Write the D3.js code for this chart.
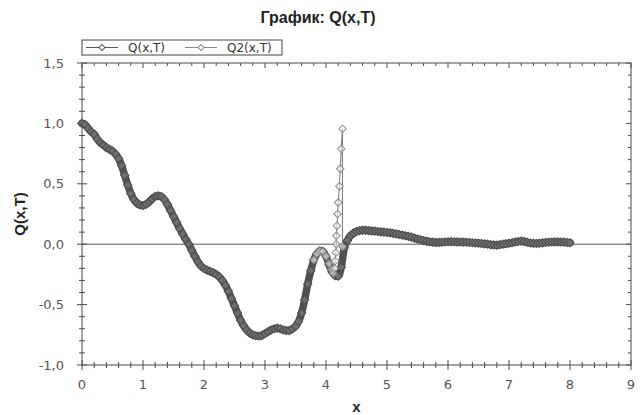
<!DOCTYPE html>
<meta charset="utf-8">
<script src="https://d3js.org/d3.v7.min.js"></script>
<style>
  body { margin: 0; background: #fff; }
</style>
<body>
<div id="my_dataviz"></div>
<script>
// Q(x,T), sampled every 0.05 from 0 to 8
var qX = [
  0.00,0.05,0.10,0.15,0.20,0.25,0.30,0.35,0.40,0.45,0.50,0.55,0.60,0.65,0.70,0.75,0.80,0.85,0.90,0.95,
  1.00,1.05,1.10,1.15,1.20,1.25,1.30,1.35,1.40,1.45,1.50,1.55,1.60,1.65,1.70,1.75,1.80,1.85,1.90,1.95,
  2.00,2.05,2.10,2.15,2.20,2.25,2.30,2.35,2.40,2.45,2.50,2.55,2.60,2.65,2.70,2.75,2.80,2.85,2.90,2.95,
  3.00,3.05,3.10,3.15,3.20,3.25,3.30,3.35,3.40,3.45,3.50,3.55,3.60,3.65,3.70,3.75,3.80,3.85,3.90,3.95,
  4.00,4.05,4.10,4.15,4.20,4.25,4.30,4.35,4.40,4.45,4.50,4.55,4.60,4.65,4.70,4.75,4.80,4.85,4.90,4.95,
  5.00,5.05,5.10,5.15,5.20,5.25,5.30,5.35,5.40,5.45,5.50,5.55,5.60,5.65,5.70,5.75,5.80,5.85,5.90,5.95,
  6.00,6.05,6.10,6.15,6.20,6.25,6.30,6.35,6.40,6.45,6.50,6.55,6.60,6.65,6.70,6.75,6.80,6.85,6.90,6.95,
  7.00,7.05,7.10,7.15,7.20,7.25,7.30,7.35,7.40,7.45,7.50,7.55,7.60,7.65,7.70,7.75,7.80,7.85,7.90,7.95,
  8.00];
var qY = [
  1.00,0.99,0.96,0.93,0.91,0.87,0.84,0.82,0.80,0.785,0.77,0.745,0.71,0.65,0.57,0.49,0.42,0.37,0.34,0.325,
  0.32,0.33,0.35,0.375,0.395,0.40,0.395,0.37,0.33,0.28,0.23,0.18,0.13,0.085,0.04,0.00,-0.05,-0.10,-0.145,-0.18,
  -0.20,-0.215,-0.225,-0.235,-0.25,-0.27,-0.30,-0.34,-0.39,-0.45,-0.51,-0.57,-0.63,-0.675,-0.71,-0.735,-0.75,-0.758,-0.76,-0.755,
  -0.74,-0.725,-0.71,-0.70,-0.695,-0.70,-0.71,-0.715,-0.715,-0.70,-0.68,-0.64,-0.57,-0.46,-0.33,-0.22,-0.13,-0.08,-0.055,-0.06,
  -0.10,-0.17,-0.23,-0.26,-0.265,-0.19,-0.03,0.03,0.07,0.09,0.105,0.112,0.115,0.115,0.113,0.11,0.108,0.105,0.102,0.10,
  0.097,0.094,0.09,0.085,0.08,0.075,0.07,0.065,0.058,0.05,0.043,0.037,0.03,0.024,0.02,0.017,0.015,0.015,0.016,0.018,
  0.02,0.021,0.02,0.019,0.018,0.017,0.016,0.014,0.012,0.01,0.008,0.006,0.003,0.0,-0.004,-0.006,-0.007,-0.004,0.0,0.004,
  0.008,0.012,0.018,0.022,0.025,0.022,0.016,0.01,0.007,0.006,0.008,0.011,0.014,0.016,0.018,0.019,0.019,0.018,0.017,0.014,
  0.012];

// Q2(x,T), the spike near x = 4.2
var q2X = [3.80,3.85,3.90,3.95,4.00,4.05,4.09,4.12,4.14,4.15,4.163,4.168,4.17,4.18,4.19,4.20,4.22,4.234,4.25,4.27,4.27];
var q2Y = [-0.13,-0.08,-0.055,-0.06,-0.10,-0.16,-0.21,-0.24,-0.20,-0.14,-0.07,0.0,0.07,0.153,0.25,0.345,0.48,0.625,0.79,0.955,-0.02];

var seriesNames = ["Q(x,T)", "Q2(x,T)"];
var titleText = "График: Q(x,T)";
var xLabel = "x", yLabel = "Q(x,T)";

var W = 640, H = 415;
var margin = {top: 63, right: 9, bottom: 50, left: 82},
    width = W - margin.left - margin.right,
    height = H - margin.top - margin.bottom;

var svg = d3.select("#my_dataviz")
  .append("svg")
    .attr("width", W)
    .attr("height", H)
    .style("font-family", "'DejaVu Sans', sans-serif");

var g = svg.append("g")
    .attr("transform", "translate(" + margin.left + "," + margin.top + ")");

var x = d3.scaleLinear().domain([0, 9]).range([0, width]);
var y = d3.scaleLinear().domain([-1, 1.5]).range([height, 0]);

var loc = d3.formatLocale({decimal: ",", thousands: " ", grouping: [3], currency: ["", ""], minus: "-"});
var fmt = loc.format(".1f");

var axisCol = "#4a4a4a";
var isMajorY = function(d) { return Math.abs(d * 2 - Math.round(d * 2)) < 1e-6; };
var isMajorX = function(d) { return Math.abs(d - Math.round(d)) < 1e-6; };

// frame
g.append("rect")
  .attr("width", width).attr("height", height)
  .attr("fill", "none").attr("stroke", axisCol).attr("stroke-width", 1);

// zero line
g.append("line")
  .attr("x1", 0).attr("x2", width)
  .attr("y1", y(0)).attr("y2", y(0))
  .attr("stroke", "#555").attr("stroke-width", 1);

// left ticks (crossing the axis)
g.selectAll(".ytl").data(y.ticks(25)).join("line")
  .attr("x1", function(d) { return isMajorY(d) ? -5 : -3; })
  .attr("x2", function(d) { return isMajorY(d) ? 5 : 3; })
  .attr("y1", function(d) { return y(d); }).attr("y2", function(d) { return y(d); })
  .attr("stroke", axisCol);
// right ticks (inward)
g.selectAll(".ytr").data(y.ticks(25)).join("line")
  .attr("x1", width)
  .attr("x2", function(d) { return width - (isMajorY(d) ? 5 : 3); })
  .attr("y1", function(d) { return y(d); }).attr("y2", function(d) { return y(d); })
  .attr("stroke", axisCol);
// bottom ticks (crossing)
g.selectAll(".xtb").data(x.ticks(45)).join("line")
  .attr("x1", function(d) { return x(d); }).attr("x2", function(d) { return x(d); })
  .attr("y1", function(d) { return height + (isMajorX(d) ? 5 : 3); })
  .attr("y2", function(d) { return height - (isMajorX(d) ? 5 : 3); })
  .attr("stroke", axisCol);
// top ticks (inward)
g.selectAll(".xtt").data(x.ticks(45)).join("line")
  .attr("x1", function(d) { return x(d); }).attr("x2", function(d) { return x(d); })
  .attr("y1", 0)
  .attr("y2", function(d) { return isMajorX(d) ? 5 : 3; })
  .attr("stroke", axisCol);

// tick labels
g.selectAll(".yl").data(y.ticks(5)).join("text")
  .attr("x", -18).attr("y", function(d) { return y(d) + 4.5; })
  .attr("text-anchor", "end")
  .style("font-size", "13px").attr("fill", "#555")
  .text(function(d) { return fmt(d); });
g.selectAll(".xl").data(x.ticks(9)).join("text")
  .attr("x", function(d) { return x(d); }).attr("y", height + 24)
  .attr("text-anchor", "middle")
  .style("font-size", "13px").attr("fill", "#555")
  .text(function(d) { return d; });

// titles
svg.append("text")
  .attr("x", 318).attr("y", 23)
  .attr("text-anchor", "middle")
  .style("font-family", "'Liberation Sans', Arial, sans-serif")
  .style("font-size", "16px").style("font-weight", "bold").attr("fill", "#222")
  .text(titleText);
svg.append("text")
  .attr("x", margin.left + width / 2).attr("y", 412)
  .attr("text-anchor", "middle")
  .style("font-family", "'Liberation Sans', Arial, sans-serif")
  .style("font-size", "15px").style("font-weight", "bold").attr("fill", "#222")
  .text(xLabel);
svg.append("text")
  .attr("transform", "translate(25,214) rotate(-90)")
  .attr("text-anchor", "middle")
  .style("font-family", "'Liberation Sans', Arial, sans-serif")
  .style("font-size", "15px").style("font-weight", "bold").attr("fill", "#222")
  .text(yLabel);

var diamond = function(size) { return d3.symbol(d3.symbolSquare).size(size)(); };

var qData = qX.map(function(v, i) { return {x: v, y: qY[i]}; });
var q2Data = q2X.map(function(v, i) { return {x: v, y: q2Y[i]}; });
var line = d3.line().curve(d3.curveMonotoneX)
  .x(function(d) { return x(d.x); }).y(function(d) { return y(d.y); });

// Q series: markers are packed so tightly that they read as a thick band
g.append("path").datum(qData)
  .attr("fill", "none").attr("stroke", "#505050").attr("stroke-width", 7.5)
  .attr("stroke-linejoin", "round").attr("stroke-linecap", "round")
  .attr("d", line);
g.selectAll(".qm").data(qData).join("path")
  .attr("d", diamond(34))
  .attr("transform", function(d) { return "translate(" + x(d.x) + "," + y(d.y) + ") rotate(45)"; })
  .attr("fill", "#6e6e6e").attr("stroke", "#4e4e4e").attr("stroke-width", 1);

// Q2 series
g.append("path").datum(q2Data)
  .attr("fill", "none").attr("stroke", "#777").attr("stroke-width", 1)
  .attr("d", d3.line().x(function(d) { return x(d.x); }).y(function(d) { return y(d.y); }));
g.selectAll(".q2m").data(q2Data).join("path")
  .attr("d", diamond(28))
  .attr("transform", function(d) { return "translate(" + x(d.x) + "," + y(d.y) + ") rotate(45)"; })
  .attr("fill", "#fff").attr("fill-opacity", 0.5).attr("stroke", "#8a8a8a").attr("stroke-width", 1);

// legend
var leg = svg.append("g").attr("transform", "translate(82,40)");
leg.append("rect").attr("width", 200).attr("height", 15)
  .attr("fill", "#fff").attr("stroke", "#444");
var legX = [4, 103];
var legStroke = ["#555", "#888"];
seriesNames.forEach(function(name, i) {
  leg.append("line").attr("x1", legX[i]).attr("x2", legX[i] + 32)
    .attr("y1", 7.5).attr("y2", 7.5).attr("stroke", legStroke[i]);
  leg.append("path").attr("d", diamond(18))
    .attr("transform", "translate(" + (legX[i] + 16) + ",7.5) rotate(45)")
    .attr("fill", "#fff").attr("stroke", legStroke[i]);
  leg.append("text").attr("x", legX[i] + 42).attr("y", 12)
    .style("font-size", "12px").attr("fill", "#333")
    .text(name);
});
</script>
</body>
